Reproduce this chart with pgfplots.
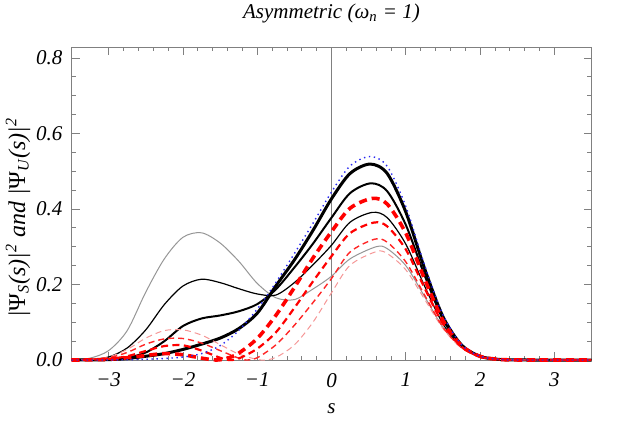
\documentclass[border=0pt]{standalone}
\usepackage{fontspec}
\setmainfont{Liberation Serif}
\usepackage{pgfplots}
\pgfplotsset{compat=1.18}

\definecolor{framegray}{RGB}{128,128,128}
\definecolor{lightgraycurve}{RGB}{150,150,150}
\definecolor{pinkcurve}{RGB}{245,150,150}
\definecolor{dotblue}{RGB}{40,40,240}

\begin{document}
\begin{tikzpicture}
\begin{axis}[
  scale only axis,
  width=260pt, height=156.5pt,
  xmin=-3.5, xmax=3.5, ymin=0, ymax=0.829,
  clip=false,
  axis line style={framegray, line width=0.5pt},
  tick style={framegray, line width=0.4pt},
  tick align=inside,
  major tick length=4pt, minor tick length=2.2pt,
  xtick={-3,-2,-1,0,1,2,3},
  xticklabels={−3,−2,−1,0,1,2,3},
  minor x tick num=4,
  ytick={0,0.2,0.4,0.6,0.8},
  yticklabels={0.0,0.2,0.4,0.6,0.8},
  minor y tick num=3,
  ticklabel style={font=\fontsize{10.5}{12}\selectfont\itshape},
  xticklabel style={yshift=-3pt},
  yticklabel style={xshift=-1pt},
  every axis title shift=0pt,
  title={\itshape Asymmetric (ω\textsubscript{n} = 1)},
  title style={at={(axis description cs:0.5,1)}, anchor=base, yshift=14.5pt,
    font=\fontsize{10.5}{12}\selectfont},
  xlabel={\itshape s},
  xlabel style={at={(axis description cs:0.5,0)}, anchor=center, yshift=-24.5pt,
    font=\fontsize{10.5}{12}\selectfont},
  ylabel={\itshape |\textup{Ψ}\textsubscript{S}(s)|\textsuperscript{2} and |\textup{Ψ}\textsubscript{U}(s)|\textsuperscript{2}},
  ylabel style={at={(axis description cs:-0.103,0.454)}, anchor=center,
    font=\fontsize{12}{14}\selectfont},
  every axis plot/.append style={smooth, no markers, tension=0.5},
]

% axis line through s = 0
\addplot[framegray, line width=0.4pt, sharp plot] coordinates {(0,0) (0,0.829)};

% |Psi_S|^2 family (solid)
\addplot[lightgraycurve, line width=0.5pt] coordinates {
(-3.5,0) (-3.25,0.005) (-3,0.025) (-2.75,0.078) (-2.5,0.180) (-2.25,0.268)
(-2,0.325) (-1.75,0.337) (-1.5,0.310) (-1.25,0.262) (-1,0.203) (-0.75,0.165)
(-0.5,0.160) (-0.25,0.188) (0,0.222) (0.25,0.268) (0.6,0.300) (0.75,0.295)
(1,0.250) (1.25,0.169) (1.5,0.087) (1.75,0.033) (2,0.0092) (2.25,0.0018)
(2.5,0.0003) (3,0) (3.5,0)};

\addplot[black, line width=0.6pt] coordinates {
(-3.5,0) (-3.25,0.0015) (-3,0.008) (-2.75,0.032) (-2.5,0.080) (-2.25,0.147)
(-2,0.196) (-1.75,0.214) (-1.5,0.205) (-1.25,0.189) (-1,0.175) (-0.75,0.172)
(-0.5,0.205) (-0.25,0.252) (0,0.304) (0.25,0.365) (0.55,0.391) (0.75,0.377)
(1,0.307) (1.25,0.197) (1.5,0.096) (1.75,0.0346) (2,0.0089) (2.25,0.0016)
(2.5,0.0002) (3,0) (3.5,0)};

\addplot[black, line width=1.0pt] coordinates {
(-3.5,0) (-3.25,0.0005) (-3,0.002) (-2.75,0.006) (-2.5,0.020) (-2.25,0.050)
(-2,0.090) (-1.75,0.110) (-1.5,0.118) (-1.25,0.129) (-1,0.148) (-0.75,0.187)
(-0.5,0.245) (-0.25,0.308) (0,0.377) (0.25,0.442) (0.53,0.468) (0.75,0.447)
(1,0.358) (1.25,0.226) (1.5,0.108) (1.75,0.0376) (2,0.0094) (2.25,0.0016)
(2.5,0.0002) (3,0) (3.5,0)};

\addplot[black, line width=1.5pt] coordinates {
(-3.5,0) (-3.25,0.0003) (-3,0.001) (-2.75,0.004) (-2.5,0.010) (-2.25,0.017)
(-2,0.028) (-1.75,0.042) (-1.5,0.058) (-1.25,0.083) (-1,0.124) (-0.75,0.196)
(-0.5,0.265) (-0.25,0.343) (0,0.427) (0.25,0.494) (0.52,0.519) (0.75,0.494)
(1,0.392) (1.25,0.244) (1.5,0.115) (1.75,0.040) (2,0.0098) (2.25,0.0017)
(2.5,0.0002) (3,0) (3.5,0)};

% |Psi_U|^2 family (dashed)
\addplot[pinkcurve, line width=0.5pt, dash pattern=on 3pt off 2pt] coordinates {
(-3.5,0) (-3.25,0.002) (-3,0.008) (-2.75,0.028) (-2.5,0.058) (-2.25,0.078)
(-2,0.080) (-1.75,0.066) (-1.5,0.041) (-1.25,0.016) (-0.95,0) (-0.75,0.007)
(-0.5,0.040) (-0.25,0.100) (0,0.178) (0.25,0.251) (0.6,0.287) (0.75,0.282)
(1,0.239) (1.25,0.162) (1.5,0.0835) (1.75,0.0319) (2,0.0088) (2.25,0.0017)
(2.5,0.0002) (3,0) (3.5,0)};

\addplot[red!85, line width=0.7pt, dash pattern=on 3pt off 2pt] coordinates {
(-3.5,0) (-3.25,0.002) (-3,0.006) (-2.75,0.020) (-2.5,0.042) (-2.25,0.056)
(-2,0.057) (-1.75,0.045) (-1.5,0.025) (-1.25,0.005) (-1.15,0) (-1,0.006)
(-0.75,0.040) (-0.5,0.092) (-0.25,0.152) (0,0.216) (0.25,0.286) (0.58,0.320)
(0.75,0.312) (1,0.260) (1.25,0.173) (1.5,0.087) (1.75,0.0326) (2,0.0087)
(2.25,0.0016) (2.5,0.0002) (3,0) (3.5,0)};

\addplot[red, line width=1.1pt, dash pattern=on 3.5pt off 2.2pt] coordinates {
(-3.5,0) (-3.25,0.001) (-3,0.003) (-2.75,0.010) (-2.5,0.024) (-2.25,0.037)
(-2,0.039) (-1.75,0.025) (-1.5,0.006) (-1.38,0) (-1.25,0.004) (-1,0.030)
(-0.75,0.073) (-0.5,0.138) (-0.25,0.208) (0,0.275) (0.25,0.336) (0.57,0.364)
(0.75,0.354) (1,0.293) (1.25,0.192) (1.5,0.096) (1.75,0.0353) (2,0.0093)
(2.25,0.0017) (2.5,0.0002) (3,0) (3.5,0)};

\addplot[red, line width=1.8pt, dash pattern=on 4pt off 2.5pt] coordinates {
(-3.5,0) (-3.25,0.0005) (-3,0.002) (-2.75,0.006) (-2.5,0.012) (-2.25,0.017)
(-2,0.014) (-1.75,0.005) (-1.55,0) (-1.4,0.005) (-1.25,0.018) (-1,0.057)
(-0.75,0.118) (-0.5,0.192) (-0.25,0.270) (0,0.340) (0.25,0.402) (0.55,0.428)
(0.75,0.413) (1,0.336) (1.25,0.216) (1.5,0.105) (1.75,0.038) (2,0.0097)
(2.25,0.0018) (2.5,0.0002) (3,0) (3.5,0)};

% reference curve (dotted)
\addplot[dotblue, line width=0.7pt, dash pattern=on 0.7pt off 1.8pt] coordinates {
(-3.5,0) (-3,0.0003) (-2.75,0.0008) (-2.5,0.002) (-2.25,0.004) (-2,0.008)
(-1.75,0.017) (-1.5,0.038) (-1.25,0.078) (-1,0.135) (-0.75,0.205) (-0.5,0.282)
(-0.25,0.362) (0,0.445) (0.25,0.514) (0.52,0.539) (0.75,0.513) (1,0.407)
(1.25,0.253) (1.5,0.120) (1.75,0.041) (2,0.010) (2.25,0.0017) (2.5,0.0002)
(3,0) (3.5,0)};

\end{axis}
\pgfresetboundingbox
\path[use as bounding box]
  ([shift={(-35.75pt,-32.5pt)}]current axis.south west)
  rectangle ([shift={(16.75pt,23.5pt)}]current axis.north east);
\end{tikzpicture}
\end{document}
